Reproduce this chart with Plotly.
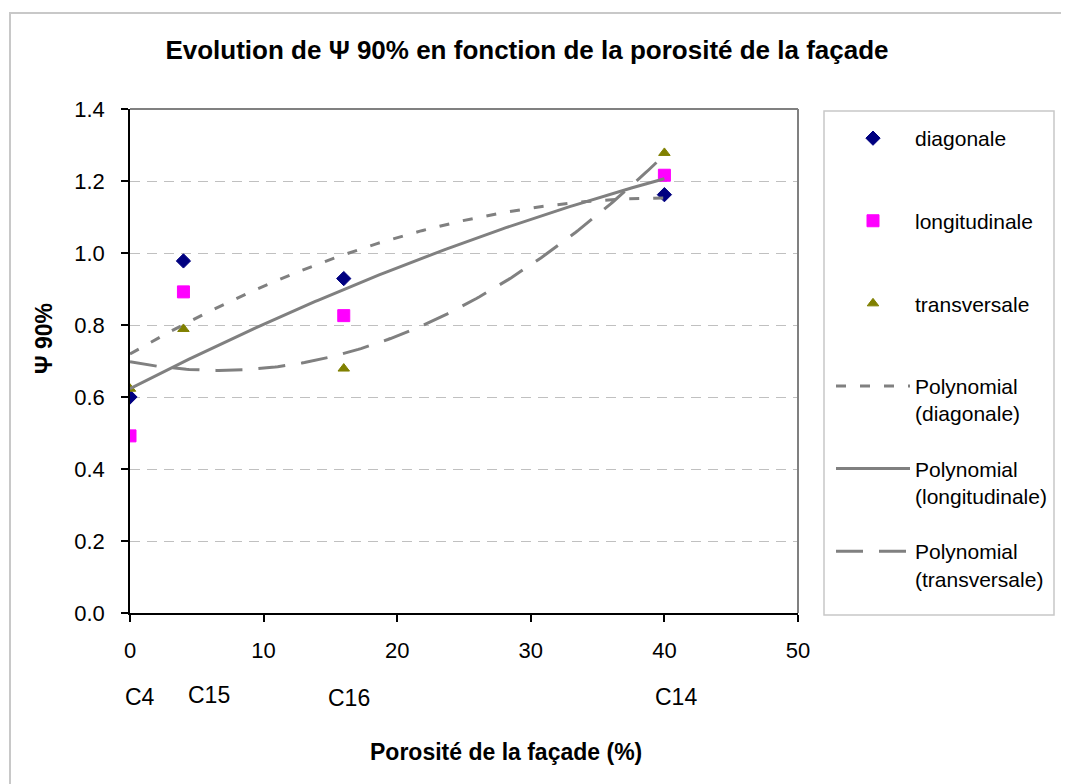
import numpy as np
import plotly.graph_objects as go

# ---------------- data ----------------
porosity = [0, 4, 16, 40]
configs = ["C4", "C15", "C16", "C14"]
diagonale = [0.600, 0.978, 0.929, 1.162]
longitudinale = [0.492, 0.892, 0.826, 1.216]
transversale = [0.623, 0.789, 0.679, 1.278]
x_ticks = [0, 10, 20, 30, 40, 50]
y_ticks = [0.0, 0.2, 0.4, 0.6, 0.8, 1.0, 1.2, 1.4]

# ---------------- style ----------------
FONT = "Liberation Sans, Arial, sans-serif"
W, H = 1069, 784
OFF = 8  # page body margin of the browser
PW, PH = 668, 504
L, T = 130 - OFF, 109 - OFF
R, B = W - L - PW, H - T - PH


def px(xp):
    """screen x pixel -> paper fraction"""
    return (xp - OFF - L) / PW


def py(yp):
    """screen y pixel -> paper fraction"""
    return (T + PH - (yp - OFF)) / PH


GRAY = "#808080"
fig = go.Figure()

series = [
    ("diagonale", diagonale, "diamond", "#000080", 11, "10px,14px"),
    ("longitudinale", longitudinale, "square", "#FF00FF", 12, "solid"),
    ("transversale", transversale, "triangle-up", "#808000", 10, "27px,16px"),
]

for name, vals, sym, col, size, _ in series:
    fig.add_trace(go.Scatter(
        x=porosity, y=vals, mode="markers", name=name + "<br> ",
        legendgroup=name,
        marker=dict(symbol=sym, color=col, size=size, line=dict(color=col, width=1)),
    ))

xfit = np.linspace(min(porosity), max(porosity), 200)
for name, vals, sym, col, size, dash in series:
    coef = np.polyfit(porosity, vals, 2)
    fig.add_trace(go.Scatter(
        x=xfit, y=np.polyval(coef, xfit), mode="lines",
        name="Polynomial<br>(" + name + ")", legendgroup="poly_" + name,
        line=dict(color=GRAY, width=3, dash=dash),
    ))

# category labels under x axis
label_shift = [10, 26, 5, 12]
label_y = [697, 695, 698, 697]
annotations = []
for xv, lab, sh, yy in zip(porosity, configs, label_shift, label_y):
    annotations.append(dict(x=xv, xref="x", y=py(yy), yref="paper", text=lab,
                            showarrow=False, xshift=sh, yanchor="middle",
                            font=dict(family=FONT, size=23, color="black")))

annotations.append(dict(x=px(506), y=py(752), xref="paper", yref="paper",
                        text="<b>Porosité de la façade (%)</b>", showarrow=False,
                        yanchor="middle", font=dict(family=FONT, size=23, color="black")))
annotations.append(dict(x=px(44), y=py(339), xref="paper", yref="paper",
                        text="<b>Ψ 90%</b>", showarrow=False, textangle=-90,
                        xanchor="center", yanchor="middle",
                        font=dict(family=FONT, size=23, color="black")))

shapes = [
    # outer chart frame
    dict(type="rect", xref="paper", yref="paper", x0=px(10), x1=px(1100),
         y0=py(810), y1=py(13), line=dict(color="#c8c8c8", width=2), layer="below"),
    # plot area top / right border
    dict(type="line", xref="paper", yref="paper", x0=0, x1=1, y0=1, y1=1,
         line=dict(color=GRAY, width=2)),
    dict(type="line", xref="paper", yref="paper", x0=1, x1=1, y0=0, y1=1,
         line=dict(color=GRAY, width=2)),
    # legend box
    dict(type="rect", xref="paper", yref="paper", x0=px(824), x1=px(1054),
         y0=py(615), y1=py(111), line=dict(color="#c8c8c8", width=1.5)),
]

fig.update_layout(
    width=W, height=H,
    margin=dict(l=L, r=R, t=T, b=B, pad=0),
    paper_bgcolor="white", plot_bgcolor="white",
    font=dict(family=FONT, color="black"),
    title=dict(text="<b>Evolution de Ψ 90% en fonction de la porosité de la façade</b>",
               x=px(527), xanchor="center", xref="paper",
               y=1 - (50 - OFF) / H, yanchor="middle", yref="container",
               font=dict(family=FONT, size=26, color="black")),
    showlegend=True,
    legend=dict(x=px(831), y=py(118), xanchor="left", yanchor="top",
                xref="paper", yref="paper",
                bgcolor="rgba(0,0,0,0)", borderwidth=0,
                font=dict(family=FONT, size=21, color="black"),
                traceorder="grouped", tracegroupgap=25, valign="top",
                itemwidth=74),
    annotations=annotations,
    shapes=shapes,
)

fig.update_xaxes(range=[0, 50], tickvals=x_ticks, showline=True, linecolor="black",
                 linewidth=1.5, ticks="outside", ticklen=7, tickcolor="black",
                 tickwidth=1.5, showgrid=False, zeroline=False,
                 tickfont=dict(family=FONT, size=22, color="black"),
                 ticklabelstandoff=10)
fig.update_yaxes(range=[0, 1.4], tickvals=y_ticks, tickformat=".1f", showline=True,
                 linecolor="black", linewidth=1.5, ticks="outside", ticklen=7,
                 tickcolor="black", tickwidth=1.5, showgrid=True,
                 gridcolor="#c0c0c0", gridwidth=1, griddash="10px,7px",
                 zeroline=False, tickfont=dict(family=FONT, size=22, color="black"),
                 ticklabelstandoff=12)

fig.write_html("out.html")
